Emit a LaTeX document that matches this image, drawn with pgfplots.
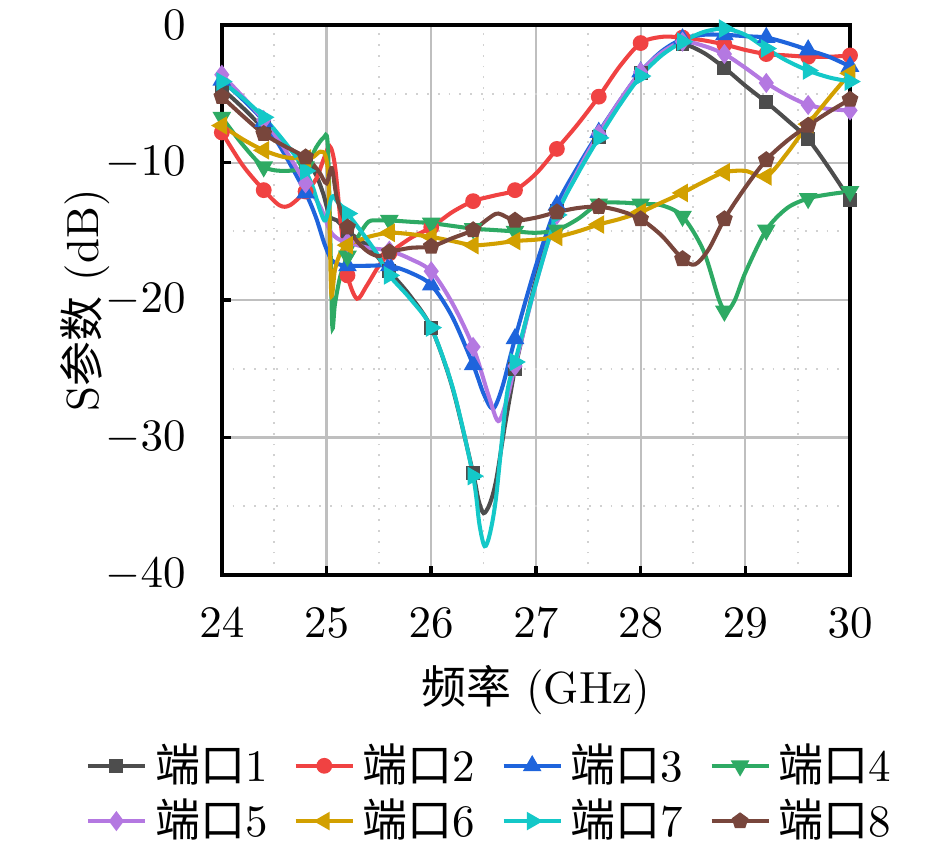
\documentclass[border=0pt]{standalone}
\usepackage{fontspec}
\usepackage{pgfplots}
\usepackage{pgfplotstable}
\pgfplotsset{compat=1.18}
\newfontfamily\cjk{Noto Sans CJK SC}
\definecolor{c1}{RGB}{77,77,77}
\definecolor{c2}{RGB}{240,66,66}
\definecolor{c3}{RGB}{30,100,220}
\definecolor{c4}{RGB}{46,170,100}
\definecolor{c5}{RGB}{180,120,225}
\definecolor{c6}{RGB}{210,160,0}
\definecolor{c7}{RGB}{20,200,200}
\definecolor{c8}{RGB}{120,70,60}
\pgfplotstableread{
x s1 s2 s3 s4 s5 s6 s7 s8
24.0 -4.6 -7.8 -4.0 -6.7 -3.6 -7.3 -4.1 -5.2
24.4 -7.5 -12.0 -7.0 -10.3 -6.9 -9.1 -6.7 -7.9
24.8 -9.8 -12.1 -12.2 -10.3 -11.5 -9.7 -10.6 -9.6
25.2 -15.0 -18.2 -17.5 -16.8 -15.8 -16.0 -13.7 -14.7
25.6 -17.9 -16.6 -17.5 -14.2 -16.4 -15.1 -18.2 -16.5
26.0 -22.0 -14.7 -18.9 -14.4 -17.9 -15.4 -22.0 -16.1
26.4 -32.6 -12.8 -24.7 -14.8 -23.4 -16.0 -32.8 -14.9
26.8 -25.0 -12.0 -22.8 -15.0 -24.8 -15.7 -24.5 -14.2
27.2 -13.5 -9.0 -13.1 -14.9 -13.8 -15.4 -13.8 -13.6
27.6 -8.1 -5.2 -7.8 -13.0 -7.9 -14.5 -8.2 -13.2
28.0 -3.5 -1.3 -3.4 -13.0 -3.4 -13.6 -3.7 -14.1
28.4 -1.4 -0.9 -1.0 -13.9 -1.2 -12.2 -1.2 -17.0
28.8 -3.1 -1.4 -0.7 -20.8 -2.1 -10.7 -0.25 -14.1
29.2 -5.6 -2.1 -0.9 -14.9 -4.2 -11.0 -1.7 -9.8
29.6 -8.3 -2.3 -1.8 -12.6 -5.8 -7.2 -3.3 -7.3
30.0 -12.7 -2.2 -3.0 -12.1 -6.2 -3.5 -4.1 -5.4
}\marks
\begin{document}
\begin{tikzpicture}
\begin{axis}[
  scale only axis, width=139.6pt, height=122.2pt,
  xmin=24, xmax=30, ymin=-40, ymax=0,
  xtick={24,25,...,30}, ytick={-40,-30,...,0},
  minor xtick={24.5,25.5,...,29.5}, minor ytick={-35,-25,-15,-5},
  grid=both,
  major grid style={line width=0.5pt, black!25},
  minor grid style={line width=0.4pt, dotted, black!18},
  tick align=inside, xtick pos=bottom, ytick pos=left,
  major tick length=2pt, minor tick length=0pt,
  axis line style={line width=0.8pt},
  every tick/.style={black, line width=0.8pt},
  xticklabel style={yshift=-4pt},
  yticklabel style={xshift=-4.5pt},
  xlabel={{\cjk 频率} (GHz)},
  ylabel={S{\cjk 参数} (dB)},
  xlabel style={at={(axis description cs:0.5,-0.209)}, anchor=center},
  ylabel style={at={(axis description cs:-0.218,0.5)}, anchor=center},
  legend columns=4,
  legend image code/.code={\draw[#1] (0pt,0pt) -- (12.7pt,0pt); \draw[#1] plot coordinates {(6.35pt,0pt)};},
  legend style={at={(axis description cs:-0.218,-0.295)}, anchor=north west, draw=none, fill=none,
    inner sep=0pt, row sep=0pt,
    nodes={inner xsep=1.8pt, inner ysep=1.2pt},
    /tikz/every even column/.append style={column sep=4pt}},
  legend cell align=left,
  every axis plot/.append style={line width=0.9pt},
]
\addlegendimage{c1, mark=square*, mark size=1.1pt}
\addlegendentry{{\cjk 端口}1}
\addlegendimage{c2, mark=*, mark size=1.3pt}
\addlegendentry{{\cjk 端口}2}
\addlegendimage{c3, mark=triangle*, mark size=1.5pt}
\addlegendentry{{\cjk 端口}3}
\addlegendimage{c4, mark=triangle*, mark size=1.5pt, mark options={rotate=180}}
\addlegendentry{{\cjk 端口}4}
\addlegendimage{c5, mark=diamond*, mark size=1.5pt}
\addlegendentry{{\cjk 端口}5}
\addlegendimage{c6, mark=triangle*, mark size=1.5pt, mark options={rotate=90}}
\addlegendentry{{\cjk 端口}6}
\addlegendimage{c7, mark=triangle*, mark size=1.5pt, mark options={rotate=-90}}
\addlegendentry{{\cjk 端口}7}
\addlegendimage{c8, mark=pentagon*, mark size=1.4pt}
\addlegendentry{{\cjk 端口}8}

% port 1
\addplot[c1, smooth, forget plot] coordinates {
(24.0,-4.6) (24.2,-6.0) (24.4,-7.5) (24.6,-8.7) (24.8,-9.8) (24.9,-10.9) (24.97,-12.3) (25.03,-13.9) (25.1,-14.2) (25.2,-15.0) (25.4,-16.1) (25.6,-17.9) (25.8,-19.7) (26.0,-22.0) (26.2,-26.3) (26.4,-32.6) (26.45,-34.5) (26.5,-35.5) (26.56,-34.8) (26.62,-33.1) (26.7,-29.3) (26.78,-25.8) (26.8,-25.0) (27.0,-18.5) (27.2,-13.5) (27.4,-10.5) (27.6,-8.1) (27.8,-5.6) (28.0,-3.5) (28.2,-2.0) (28.4,-1.4) (28.6,-2.0) (28.8,-3.1) (29.0,-4.4) (29.2,-5.6) (29.4,-6.9) (29.6,-8.3) (29.8,-10.4) (30.0,-12.7)};
\addplot[c1, only marks, mark=square*, mark size=1.1pt, forget plot] table[x=x,y=s1]{\marks};
% port 2
\addplot[c2, smooth, forget plot] coordinates {
(24.0,-7.8) (24.2,-10.2) (24.4,-12.0) (24.55,-13.1) (24.65,-13.1) (24.8,-12.1) (24.9,-11.2) (24.97,-9.8) (25.03,-8.8) (25.08,-10.2) (25.14,-14.7) (25.2,-18.2) (25.29,-19.9) (25.38,-19.0) (25.5,-17.5) (25.6,-16.6) (25.8,-15.5) (26.0,-14.7) (26.2,-13.6) (26.4,-12.8) (26.6,-12.4) (26.8,-12.0) (27.0,-10.8) (27.2,-9.0) (27.4,-7.2) (27.6,-5.2) (27.8,-3.0) (28.0,-1.3) (28.2,-0.85) (28.4,-0.9) (28.6,-1.1) (28.8,-1.4) (29.0,-1.8) (29.2,-2.1) (29.4,-2.2) (29.6,-2.3) (29.8,-2.3) (30.0,-2.2)};
\addplot[c2, only marks, mark=*, mark size=1.3pt, forget plot] table[x=x,y=s2]{\marks};
% port 3
\addplot[c3, smooth, forget plot] coordinates {
(24.0,-4.0) (24.2,-5.4) (24.4,-7.0) (24.6,-9.4) (24.8,-12.2) (24.9,-14.0) (24.98,-15.9) (25.05,-17.1) (25.12,-17.4) (25.2,-17.5) (25.4,-17.5) (25.6,-17.5) (25.8,-18.0) (26.0,-18.9) (26.2,-21.2) (26.4,-24.7) (26.5,-26.8) (26.59,-27.9) (26.68,-26.3) (26.8,-22.8) (27.0,-17.5) (27.2,-13.1) (27.4,-10.3) (27.6,-7.8) (27.8,-5.5) (28.0,-3.4) (28.2,-1.9) (28.4,-1.0) (28.6,-0.7) (28.8,-0.7) (29.0,-0.8) (29.2,-0.9) (29.4,-1.3) (29.6,-1.8) (29.8,-2.3) (30.0,-3.0)};
\addplot[c3, only marks, mark=triangle*, mark size=1.5pt, forget plot] table[x=x,y=s3]{\marks};
% port 4
\addplot[c4, smooth, forget plot] coordinates {
(24.0,-6.7) (24.2,-8.7) (24.4,-10.3) (24.6,-10.6) (24.8,-10.3) (24.9,-8.9) (24.97,-8.2) (25.01,-8.5) (25.035,-15.0) (25.055,-21.9) (25.08,-20.3) (25.13,-18.3) (25.2,-16.8) (25.3,-15.4) (25.4,-14.3) (25.5,-14.2) (25.6,-14.2) (25.8,-14.3) (26.0,-14.4) (26.2,-14.6) (26.4,-14.8) (26.6,-14.9) (26.8,-15.0) (27.0,-15.1) (27.2,-14.9) (27.4,-14.1) (27.6,-13.0) (27.8,-12.9) (28.0,-13.0) (28.2,-13.1) (28.4,-13.9) (28.6,-16.4) (28.75,-20.0) (28.82,-20.8) (28.9,-20.0) (29.0,-18.0) (29.2,-14.9) (29.4,-13.3) (29.6,-12.6) (29.8,-12.3) (30.0,-12.1)};
\addplot[c4, only marks, mark=triangle*, mark size=1.5pt, mark options={rotate=180}, forget plot] table[x=x,y=s4]{\marks};
% port 5
\addplot[c5, smooth, forget plot] coordinates {
(24.0,-3.6) (24.2,-5.2) (24.4,-6.9) (24.6,-9.0) (24.8,-11.5) (24.94,-13.2) (25.03,-14.9) (25.1,-15.5) (25.2,-15.8) (25.4,-16.2) (25.6,-16.4) (25.8,-17.0) (26.0,-17.9) (26.2,-20.2) (26.4,-23.4) (26.55,-27.0) (26.64,-28.8) (26.72,-27.3) (26.8,-24.8) (27.0,-18.8) (27.2,-13.8) (27.4,-10.6) (27.6,-7.9) (27.8,-5.5) (28.0,-3.4) (28.2,-2.0) (28.4,-1.2) (28.6,-1.5) (28.8,-2.1) (29.0,-3.1) (29.2,-4.2) (29.4,-5.1) (29.6,-5.8) (29.8,-6.1) (30.0,-6.2)};
\addplot[c5, only marks, mark=diamond*, mark size=1.5pt, forget plot] table[x=x,y=s5]{\marks};
% port 6
\addplot[c6, smooth, forget plot] coordinates {
(24.0,-7.3) (24.2,-8.3) (24.4,-9.1) (24.6,-9.6) (24.8,-9.7) (24.87,-9.6) (24.94,-9.2) (24.99,-9.5) (25.02,-11.5) (25.045,-19.5) (25.08,-17.8) (25.13,-16.6) (25.2,-16.0) (25.4,-15.4) (25.6,-15.1) (25.8,-15.2) (26.0,-15.4) (26.2,-15.7) (26.4,-16.0) (26.6,-15.9) (26.8,-15.7) (27.0,-15.6) (27.2,-15.4) (27.4,-15.0) (27.6,-14.5) (27.8,-14.1) (28.0,-13.6) (28.2,-12.9) (28.4,-12.2) (28.6,-11.4) (28.8,-10.7) (29.0,-10.6) (29.2,-11.0) (29.4,-9.3) (29.6,-7.2) (29.8,-5.3) (30.0,-3.5)};
\addplot[c6, only marks, mark=triangle*, mark size=1.5pt, mark options={rotate=90}, forget plot] table[x=x,y=s6]{\marks};
% port 7
\addplot[c7, smooth, forget plot] coordinates {
(24.0,-4.1) (24.2,-5.3) (24.4,-6.7) (24.6,-8.5) (24.74,-9.9) (24.8,-10.6) (24.87,-11.8) (24.94,-13.5) (24.99,-14.2) (25.05,-12.5) (25.1,-12.8) (25.2,-13.7) (25.35,-15.2) (25.48,-16.6) (25.6,-18.2) (25.8,-19.9) (26.0,-22.0) (26.21,-26.5) (26.4,-32.8) (26.46,-36.3) (26.51,-37.9) (26.56,-37.0) (26.62,-34.3) (26.72,-27.0) (26.8,-24.5) (27.0,-18.8) (27.2,-13.8) (27.4,-10.8) (27.6,-8.2) (27.8,-5.8) (28.0,-3.7) (28.2,-2.2) (28.4,-1.2) (28.6,-0.5) (28.8,-0.25) (29.0,-0.7) (29.2,-1.7) (29.4,-2.6) (29.6,-3.3) (29.8,-3.8) (30.0,-4.1)};
\addplot[c7, only marks, mark=triangle*, mark size=1.5pt, mark options={rotate=-90}, forget plot] table[x=x,y=s7]{\marks};
% port 8
\addplot[c8, smooth, forget plot] coordinates {
(24.0,-5.2) (24.2,-6.6) (24.4,-7.9) (24.6,-8.8) (24.8,-9.6) (24.88,-10.2) (24.94,-10.8) (25.0,-11.5) (25.05,-10.4) (25.1,-12.6) (25.2,-14.7) (25.3,-15.8) (25.4,-16.5) (25.5,-16.8) (25.6,-16.5) (25.8,-16.2) (26.0,-16.1) (26.2,-15.5) (26.4,-14.9) (26.54,-14.1) (26.64,-13.7) (26.8,-14.2) (27.0,-14.0) (27.2,-13.6) (27.4,-13.3) (27.6,-13.2) (27.8,-13.5) (28.0,-14.1) (28.2,-15.3) (28.4,-17.0) (28.52,-17.4) (28.65,-16.3) (28.8,-14.1) (29.0,-11.8) (29.2,-9.8) (29.4,-8.4) (29.6,-7.3) (29.8,-6.3) (30.0,-5.4)};
\addplot[c8, only marks, mark=pentagon*, mark size=1.4pt, forget plot] table[x=x,y=s8]{\marks};
\end{axis}
\pgfresetboundingbox
\path (-49.3pt,-61.1pt) rectangle (160.7pt,127.8pt);
\end{tikzpicture}
\end{document}
